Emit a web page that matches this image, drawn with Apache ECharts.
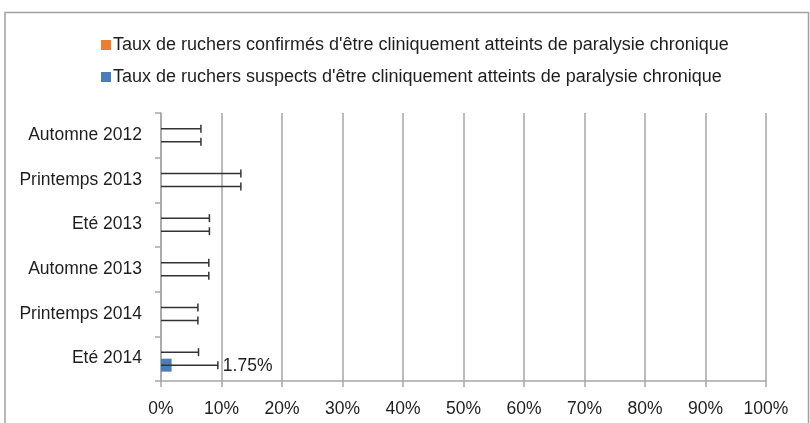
<!DOCTYPE html>
<html>
<head>
<meta charset="utf-8">
<script src="https://cdn.jsdelivr.net/npm/echarts@6/dist/echarts.min.js"></script>
<style>
  html, body { margin: 0; padding: 0; background: #ffffff; }
  #chart { width: 810px; height: 423px; }
</style>
</head>
<body>
<div id="chart"></div>
<script>
// ---- Data ----
const categories = ['Automne 2012', 'Printemps 2013', 'Eté 2013', 'Automne 2013', 'Printemps 2014', 'Eté 2014'];
const confirmesNom = "Taux de ruchers confirmés d'être cliniquement atteints de paralysie chronique";
const suspectsNom = "Taux de ruchers suspects d'être cliniquement atteints de paralysie chronique";
const confirmes = [0, 0, 0, 0, 0, 0];
const suspects = [0, 0, 0, 0, 0, 1.75];
// error bar bounds (%)
const confirmesInf = [0, 0, 0, 0, 0, 0];
const confirmesSup = [6.6, 13.2, 8.0, 7.9, 6.1, 6.2];
const suspectsInf = [0, 0, 0, 0, 0, 0];
const suspectsSup = [6.6, 13.2, 8.0, 7.9, 6.1, 9.4];
const xTicks = { min: 0, max: 100, interval: 10 };

// ---- Styles ----
const FONT = 'Liberation Sans';
const TEXT = '#1e1e1e';
const BAR_W = 13;
const ORANGE = '#ED7D31';
const BLUE = '#4A7EBB';

function errRender(sign, values, showLabel) {
  return function (params, api) {
    const cat = api.value(2);
    const pLo = api.coord([api.value(0), cat]);
    const pHi = api.coord([api.value(1), cat]);
    const y = pHi[1] + sign * BAR_W / 2;
    const style = { stroke: '#333333', lineWidth: 1.5 };
    const children = [
      { type: 'line', shape: { x1: pLo[0], y1: y, x2: pHi[0], y2: y }, style: style },
      { type: 'line', shape: { x1: pHi[0], y1: y - 4, x2: pHi[0], y2: y + 4 }, style: style }
    ];
    const v = values[params.dataIndex];
    if (showLabel && v > 0) {
      children.push({
        type: 'text',
        style: {
          x: pHi[0] + 5, y: y + 1, text: v.toFixed(2) + '%',
          fill: TEXT, font: '17.5px "' + FONT + '"',
          align: 'left', verticalAlign: 'middle'
        }
      });
    }
    return { type: 'group', children: children };
  };
}

const chart = echarts.init(document.getElementById('chart'), null, { renderer: 'canvas' });
chart.setOption({
  animation: false,
  backgroundColor: '#ffffff',
  textStyle: { fontFamily: FONT, color: TEXT },
  graphic: [{
    type: 'rect', z: 100,
    shape: { x: 5, y: 12.5, width: 803.5, height: 430 },
    style: { fill: 'none', stroke: '#a0a0a0', lineWidth: 1.5 }
  }],
  legend: {
    orient: 'vertical',
    left: 96, top: 31,
    itemWidth: 10, itemHeight: 10,
    itemGap: 14,
    icon: 'rect',
    data: [confirmesNom, suspectsNom],
    textStyle: { fontFamily: FONT, fontSize: 18, color: TEXT, padding: [0, 0, 0, -3] }
  },
  grid: { left: 161, right: 44, top: 113, bottom: 42, outerBoundsMode: 'none', containLabel: false },
  xAxis: {
    type: 'value',
    min: xTicks.min, max: xTicks.max, interval: xTicks.interval,
    axisLine: { show: true, lineStyle: { color: '#a6a6a6', width: 1.5 } },
    axisTick: { show: true, length: 6, lineStyle: { color: '#a6a6a6', width: 1.5 } },
    splitLine: { show: true, lineStyle: { color: '#a6a6a6', width: 1.5 } },
    axisLabel: { formatter: '{value}%', fontFamily: FONT, fontSize: 17.5, color: TEXT, margin: 19 }
  },
  yAxis: {
    type: 'category',
    data: categories,
    inverse: true,
    axisLine: { show: true, lineStyle: { color: '#a6a6a6', width: 1.5 } },
    axisTick: { show: true, length: 6, lineStyle: { color: '#a6a6a6', width: 1.5 } },
    axisLabel: { fontFamily: FONT, fontSize: 17.5, color: TEXT, margin: 19 }
  },
  series: [
    {
      name: confirmesNom, type: 'bar', data: confirmes,
      barWidth: BAR_W, barGap: '0%',
      itemStyle: { color: ORANGE }
    },
    {
      name: suspectsNom, type: 'bar', data: suspects,
      barWidth: BAR_W, barGap: '0%',
      itemStyle: { color: BLUE }
    },
    {
      name: 'errConfirmes', type: 'custom', z: 5,
      renderItem: errRender(-1, confirmes, false),
      encode: { x: [0, 1], y: 2 },
      data: categories.map((c, i) => [confirmesInf[i], confirmesSup[i], i])
    },
    {
      name: 'errSuspects', type: 'custom', z: 5,
      renderItem: errRender(1, suspects, true),
      encode: { x: [0, 1], y: 2 },
      data: categories.map((c, i) => [suspectsInf[i], suspectsSup[i], i])
    }
  ]
});
</script>
</body>
</html>
